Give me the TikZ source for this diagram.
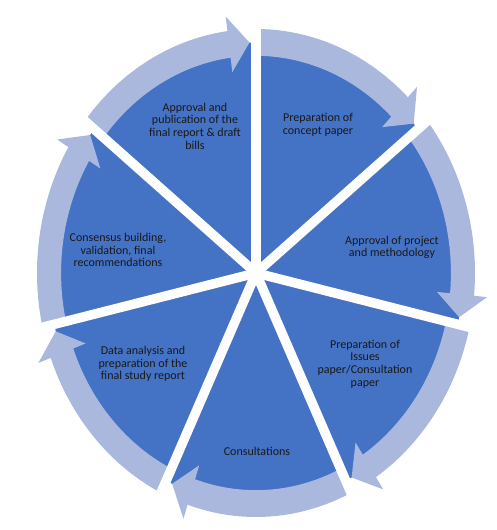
\documentclass[tikz,border=0pt]{standalone}
\usepackage{fontspec}
\setmainfont{Carlito}
\definecolor{darkblue}{HTML}{4472C4}
\definecolor{lightblue}{HTML}{A9B8DC}
\begin{document}
\begin{tikzpicture}[x=1pt,y=1pt,
  lbl/.style={align=center,font=\fontsize{12}{12.6}\selectfont,text=black!90,inner sep=0pt}]
\useasboundingbox (0,0) rectangle (496,530);
\begin{scope}[shift={(256,257)}]
\def\RX{219}\def\RY{244}
\coordinate (c) at (0,0);
\fill[darkblue] plot[domain=0:360,samples=180] ({\RX*0.945*cos(\x)},{\RY*0.945*sin(\x)}) -- cycle;
\foreach \k in {0,...,6}{
  \pgfmathsetmacro\sa{90-\k*360/7}
  \pgfmathsetmacro\se{90-(\k+1)*360/7}
  \pgfmathsetmacro\h{\se+7.5}
  \pgfmathsetmacro\t{\se+1.8}
  \fill[lightblue] plot[domain=\sa:\h,samples=40] ({\RX*cos(\x)},{\RY*sin(\x)})
    -- ({\RX*1.06*cos(\h)},{\RY*1.06*sin(\h)})
    -- ({\RX*0.945*cos(\t)},{\RY*0.945*sin(\t)})
    -- ({\RX*0.83*cos(\h)},{\RY*0.83*sin(\h)})
    -- plot[domain=\h:\sa,samples=40] ({\RX*0.89*cos(\x)},{\RY*0.89*sin(\x)}) -- cycle;
}
\foreach \k in {0,...,6}{
  \pgfmathsetmacro\sa{90-\k*360/7}
  \coordinate (e\k) at ({\RX*1.12*cos(\sa)},{\RY*1.12*sin(\sa)});
  \draw[white,line width=9.5pt] (c) -- (e\k);
}
\end{scope}
\node[lbl] (t7) at (195,404) {Approval and\\publication of the\\final report \& draft\\bills};
\node[lbl] (t1) at (318,405) {Preparation of\\concept paper};
\node[lbl] (t2) at (392,282.5) {Approval of project\\and methodology};
\node[lbl] (t3) at (365,166) {Preparation of\\Issues\\paper/Consultation\\paper};
\node[lbl] (t4) at (257,79) {Consultations};
\node[lbl] (t5) at (143,166) {Data analysis and\\preparation of the\\final study report};
\node[lbl] (t6) at (118,280) {Consensus building,\\validation, final\\recommendations};
\end{tikzpicture}
\end{document}
